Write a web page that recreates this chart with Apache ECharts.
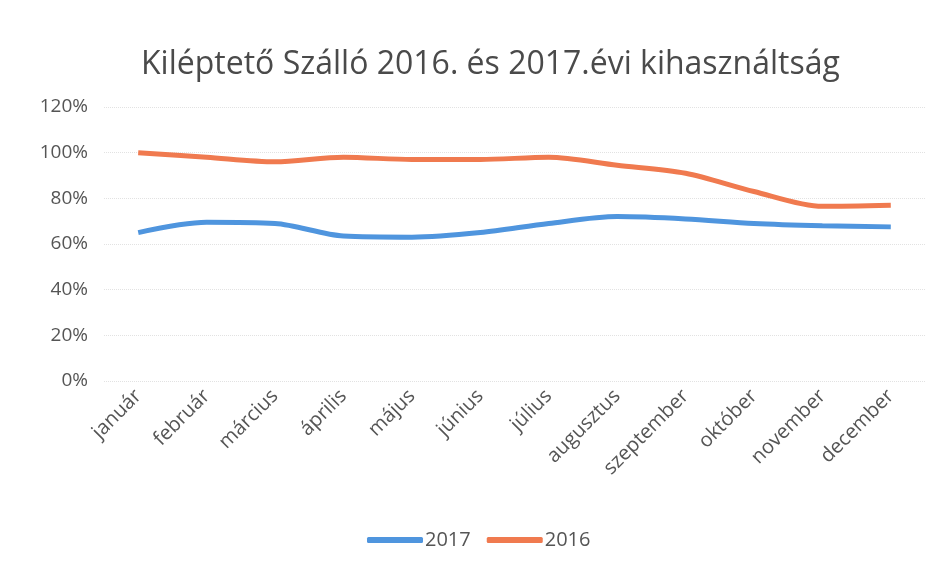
<!DOCTYPE html>
<html>
<head>
<meta charset="utf-8">
<script src="https://cdn.jsdelivr.net/npm/echarts@6/dist/echarts.min.js"></script>
<style>
  html, body { margin: 0; padding: 0; background: #fff; }
  #chart { width: 933px; height: 577px; }
</style>
</head>
<body>
<div id="chart"></div>
<script>
const months = ['január', 'február', 'március', 'április', 'május', 'június', 'július', 'augusztus', 'szeptember', 'október', 'november', 'december']
const util2017 = [65, 69.5, 69, 63.5, 63, 65, 69, 72, 71, 69, 68, 67.5]
const util2016 = [100, 98, 96, 98, 97, 97, 98, 94.5, 91, 83, 76.5, 77]

const font = 'Open Sans'
const chart = echarts.init(document.getElementById('chart'))
chart.setOption({
  animation: false,
  title: {
    text: 'Kiléptető Szálló 2016. és 2017.évi kihasználtság',
    left: 136, top: 44,
    textStyle: { fontFamily: font, fontSize: 32, fontWeight: 'normal', color: '#4a4a4a' }
  },
  legend: {
    data: ['2017', '2016'],
    bottom: 22, left: 362,
    itemWidth: 56, itemHeight: 6, itemGap: 16,
    icon: 'roundRect',
    textStyle: { fontFamily: font, fontSize: 20, color: '#555', padding: [0, 0, 0, -3] }
  },
  grid: { left: 104, right: 8, top: 107, bottom: 196 },
  xAxis: {
    type: 'category', data: months,
    axisLine: { show: false }, axisTick: { show: false },
    axisLabel: { rotate: 45, margin: 12, fontFamily: font, fontSize: 20, color: '#555' }
  },
  yAxis: {
    type: 'value', min: 0, max: 120, interval: 20,
    axisLabel: { formatter: '{value}%', margin: 16, fontFamily: font, fontSize: 19, color: '#555' },
    splitLine: { lineStyle: { color: '#e2e2e2', type: 'dotted' } }
  },
  series: [
    { name: '2017', type: 'line', data: util2017, smooth: 0.3, showSymbol: false,
      itemStyle: { color: '#4f95de' }, lineStyle: { width: 5, color: '#4f95de' } },
    { name: '2016', type: 'line', data: util2016, smooth: 0.3, showSymbol: false,
      itemStyle: { color: '#f07a4f' }, lineStyle: { width: 5, color: '#f07a4f' } }
  ]
})
</script>
</body>
</html>
